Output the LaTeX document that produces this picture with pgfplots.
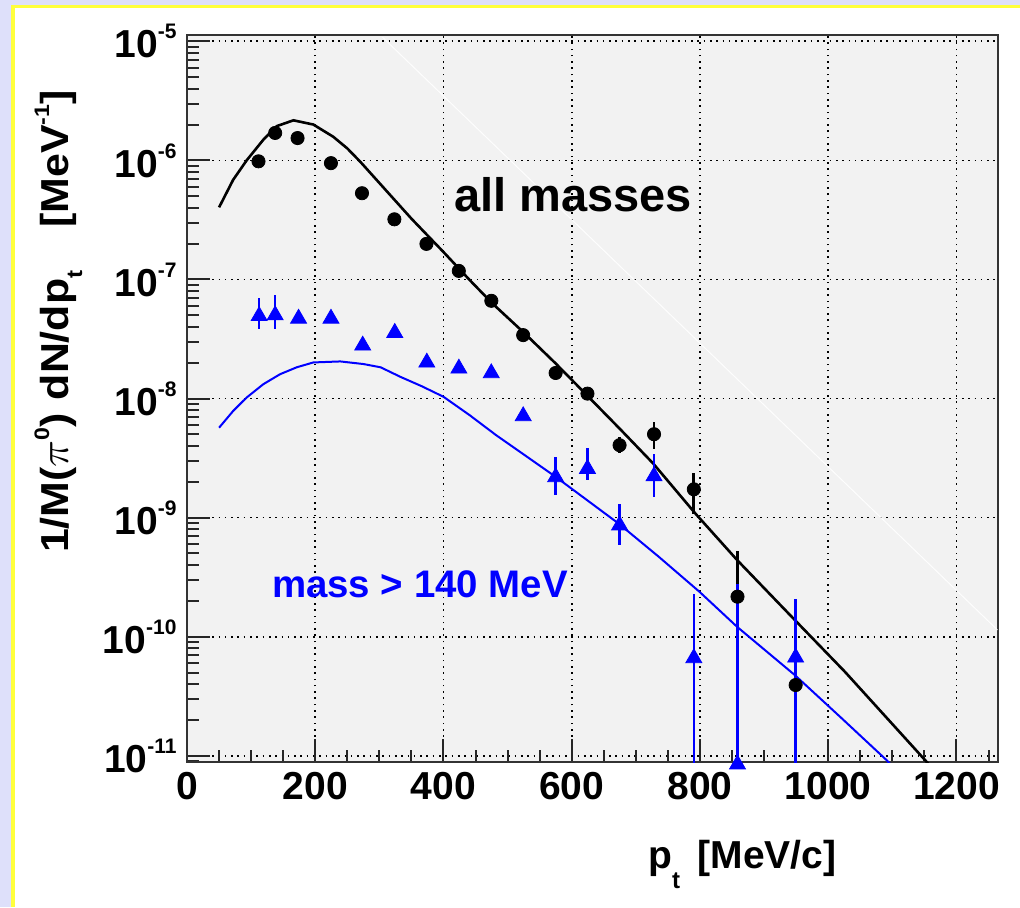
\documentclass[border=0pt]{standalone}
\usepackage{pgfplots}
\usepackage{pgfplotstable}
\pgfplotsset{compat=1.18}
\usepackage{fontspec}
\setmainfont{Liberation Sans}

\definecolor{slidebg}{RGB}{222,224,250}
\definecolor{slideline}{RGB}{255,255,60}
\definecolor{padbg}{RGB}{242,242,242}

\newcommand\sups[1]{\raisebox{9.5pt}{\fontsize{10.5pt}{10.5pt}\selectfont #1}}
\newcommand\tl[1]{10\sups{#1}}

% all masses: pt, yield, upper error, lower error
\pgfplotstableread[row sep=\\]{
x y ep em \\
111.5 9.82e-7 0 0 \\
137.5 1.70e-6 0 0 \\
172.4 1.54e-6 0 0 \\
224.5 9.48e-7 0 0 \\
272.9 5.30e-7 0 0 \\
323.4 3.20e-7 0 0 \\
373.4 1.99e-7 0 0 \\
423.9 1.18e-7 0 0 \\
474.6 6.62e-8 0 0 \\
524.2 3.41e-8 0 0 \\
574.9 1.64e-8 0 0 \\
624.5 1.10e-8 0 0 \\
674.6 4.06e-9 0.71e-9 0.60e-9 \\
728.3 5.02e-9 1.36e-9 1.28e-9 \\
790.4 1.73e-9 0.65e-9 0.65e-9 \\
858.5 2.17e-10 3.10e-10 2.169e-10 \\
949.2 3.93e-11 0.40e-11 0.48e-11 \\
}\tall

% mass > 140 MeV
\pgfplotstableread[row sep=\\]{
x y ep em \\
112.5 5.16e-8 1.89e-8 1.31e-8 \\
137.5 5.24e-8 2.14e-8 1.39e-8 \\
174.0 4.91e-8 0 0 \\
224.5 4.91e-8 0 0 \\
274.0 2.92e-8 0 0 \\
324.0 3.73e-8 0 0 \\
374.0 2.10e-8 0 0 \\
424.0 1.87e-8 0 0 \\
474.5 1.71e-8 0 0 \\
524.3 7.45e-9 0 0 \\
574.9 2.29e-9 0.95e-9 0.74e-9 \\
624.5 2.69e-9 1.19e-9 0.62e-9 \\
674.6 9.02e-10 0.40e-9 0.315e-9 \\
728.3 2.33e-9 1.08e-9 0.83e-9 \\
790.4 6.92e-11 1.60e-10 6.91e-11 \\
858.5 8.87e-12 2.66e-10 8.86e-12 \\
949.2 7.00e-11 1.39e-10 6.99e-11 \\
}\theavy

\begin{document}
\begin{tikzpicture}
% slide background and frame
\fill[slidebg] (0,0) rectangle (510pt,453.5pt);
\fill[white] (6.5pt,0) rectangle (510pt,450.15pt);
\draw[slideline, line width=1.6pt] (6.5pt,0) -- (6.5pt,450.15pt) -- (510pt,450.15pt);

\begin{axis}[
  at={(93.5pt,72.5pt)}, anchor=south west,
  scale only axis, width=405.25pt, height=363.75pt,
  ymode=log, log basis y=10,
  xmin=0, xmax=1264, ymin=8.87e-12, ymax=1.14e-5,
  axis background/.style={fill=padbg},
  axis line style={black!80, line width=1pt},
  tick pos=left, tick align=inside,
  major tick length=11.5pt, minor tick length=6pt,
  tick style={black!85, line width=1pt},
  xtick={0,200,400,600,800,1000,1200},
  xticklabels={0,200,400,600,800,1000,1200},
  minor xtick={50,100,...,1250},
  ytick={1e-11,1e-10,1e-9,1e-8,1e-7,1e-6,1e-5},
  yticklabels={\tl{-11},\tl{-10},\tl{-9},\tl{-8},\tl{-7},\tl{-6},\tl{-5}},
  minor ytick={9e-12,
    2e-11,3e-11,4e-11,5e-11,6e-11,7e-11,8e-11,9e-11,
    2e-10,3e-10,4e-10,5e-10,6e-10,7e-10,8e-10,9e-10,
    2e-9,3e-9,4e-9,5e-9,6e-9,7e-9,8e-9,9e-9,
    2e-8,3e-8,4e-8,5e-8,6e-8,7e-8,8e-8,9e-8,
    2e-7,3e-7,4e-7,5e-7,6e-7,7e-7,8e-7,9e-7,
    2e-6,3e-6,4e-6,5e-6,6e-6,7e-6,8e-6,9e-6},
  grid=major,
  major grid style={black, line width=0.8pt, dash pattern=on 0.8pt off 2.35pt},
  tick label style={font=\fontsize{19.5pt}{19.5pt}\selectfont\bfseries, inner sep=0pt},
  xticklabel style={yshift=-5pt},
  yticklabel style={xshift=-5pt},
  clip marker paths=false,
]

% faint reference line
\addplot[white, line width=0.5pt, opacity=0.9] coordinates {(305,1.08e-5) (1264,1.14e-10)};

% fit, all masses
\addplot[black, line width=1.3pt] coordinates {
  (50,4.03e-7) (72,6.87e-7) (93,1.0e-6) (119,1.49e-6) (140,1.94e-6)
  (166,2.17e-6) (197,2.00e-6) (228,1.58e-6) (250,1.26e-6) (270,9.77e-7)
  (300,6.46e-7) (350,3.24e-7) (400,1.70e-7) (440,1.0e-7) (476,6.31e-8)
  (526,3.55e-8) (575,1.97e-8) (626,1.035e-8) (676,5.50e-9) (727,2.85e-9)
  (793,1.08e-9) (858,4.40e-10) (948,1.38e-10) (1026,5.08e-11) (1156,8.6e-12)
};

% fit, mass > 140 MeV
\addplot[blue, line width=1pt] coordinates {
  (50,5.69e-9) (72,7.87e-9) (93,1.02e-8) (119,1.32e-8) (145,1.60e-8)
  (171,1.83e-8) (197,2.01e-8) (239,2.05e-8) (275,1.95e-8) (302,1.83e-8)
  (333,1.52e-8) (366,1.27e-8) (400,1.035e-8) (441,7.24e-9) (482,4.93e-9)
  (528,3.31e-9) (575,2.20e-9) (673,8.93e-10) (736,4.68e-10) (799,2.39e-10)
  (858,1.21e-10) (948,4.76e-11) (1020,2.09e-11) (1091,9.2e-12) (1096,8.6e-12)
};

% data, all masses
\addplot[black, only marks, mark=*, mark size=3.3pt,
  error bars/.cd, y dir=both, y explicit, error mark=none,
  error bar style={black, line width=1.4pt}]
  table[x=x, y=y, y error plus=ep, y error minus=em] {\tall};

% data, mass > 140 MeV
\addplot[blue, only marks, mark=triangle*, mark size=4.6pt,
  mark options={yshift=-1.15pt},
  error bars/.cd, y dir=both, y explicit, error mark=none,
  error bar style={blue, line width=1.2pt}]
  table[x=x, y=y, y error plus=ep, y error minus=em] {\theavy};

\node[anchor=base west, inner sep=0pt, font=\fontsize{23.5pt}{23.5pt}\selectfont\bfseries]
  at (rel axis cs:0.3294,0.7564) {all masses};
\node[anchor=base west, inner sep=0pt, text=blue, font=\fontsize{19.2pt}{19.2pt}\selectfont\bfseries]
  at (rel axis cs:0.1045,0.2264) {mass > 140 MeV};
\end{axis}

% axis titles
\node[rotate=90, anchor=base east, inner sep=0pt, font=\fontsize{19.5pt}{19.5pt}\selectfont\bfseries]
  at (34pt,408.5pt)
  {\scalebox{1.1}[1]{1/M(\mbox{$\pi$}\sups{0})\hspace{0.3em}dN/dp\raisebox{-7pt}{\fontsize{11pt}{11pt}\selectfont t}\hspace{1.0em}[MeV\sups{-1}]}};
\node[anchor=base west, inner sep=0pt, font=\fontsize{19.5pt}{19.5pt}\selectfont\bfseries]
  at (324pt,19.5pt)
  {p\raisebox{-10pt}{\fontsize{12pt}{12pt}\selectfont t}\hspace{0.45em}[MeV/c]};

\pgfresetboundingbox
\path[use as bounding box] (0,0) rectangle (510pt,453.5pt);
\end{tikzpicture}
\end{document}
